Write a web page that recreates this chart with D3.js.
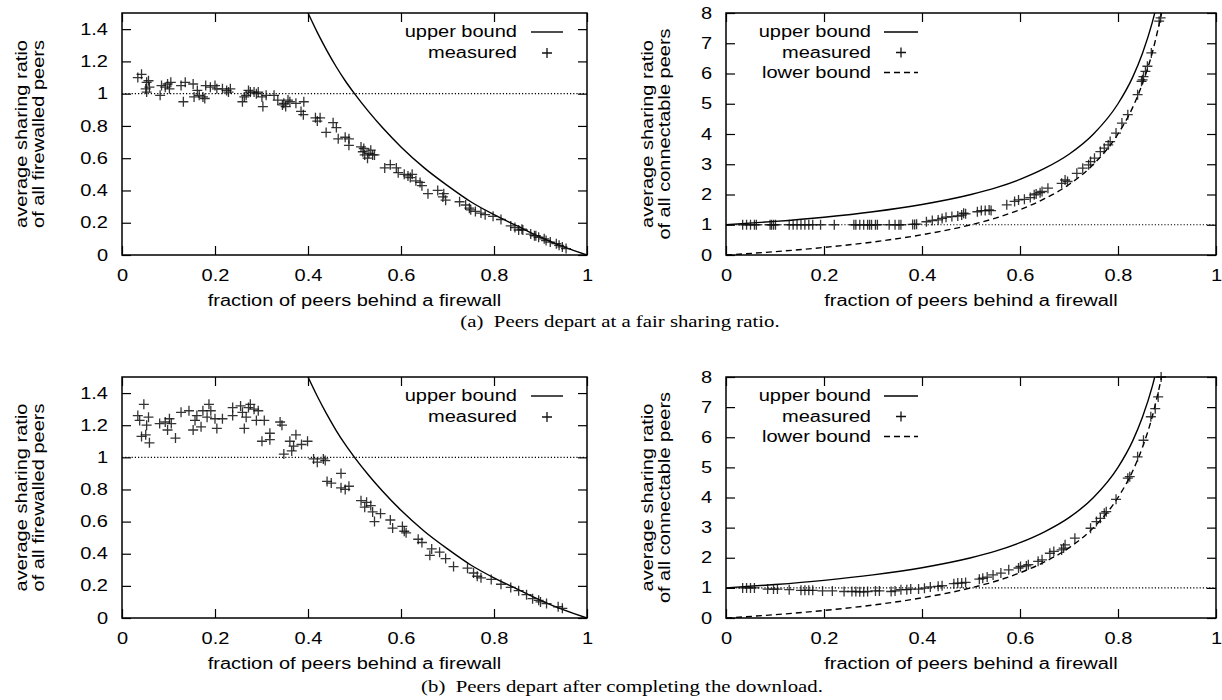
<!DOCTYPE html>
<html>
<head>
<meta charset="utf-8">
<script src="https://cdn.jsdelivr.net/npm/d3@7"></script>
<style>
  body { margin: 0; background: #fff; }
  svg text { font-family: "Liberation Sans", Arial, Helvetica, sans-serif; font-size: 16px; fill: #000; }
  svg text.caption { font-family: "Liberation Serif", "Times New Roman", serif; font-size: 16px; }
</style>
</head>
<body>
<div class="container"></div>
<script>
// tick values
const xTicks = [0, 0.2, 0.4, 0.6, 0.8, 1];
const fwTicks = [0, 0.2, 0.4, 0.6, 0.8, 1, 1.2, 1.4];
const connTicks = [0, 1, 2, 3, 4, 5, 6, 7, 8];

// bound curves
const fwUpperFrac = [0.4, 0.42, 0.44, 0.46, 0.48, 0.5, 0.53, 0.56, 0.6, 0.65, 0.7, 0.75, 0.8, 0.85, 0.9, 0.95, 1.0];
const fwUpper = [1.5, 1.38, 1.27, 1.17, 1.08, 1.0, 0.89, 0.79, 0.67, 0.54, 0.43, 0.33, 0.25, 0.18, 0.11, 0.05, 0];
const connUpperFrac = [0, 0.1, 0.2, 0.3, 0.4, 0.5, 0.55, 0.6, 0.65, 0.7, 0.75, 0.8, 0.83, 0.85, 0.87, 0.875];
const connUpper = [1, 1.11, 1.25, 1.43, 1.67, 2.0, 2.22, 2.5, 2.86, 3.33, 4.0, 5.0, 5.88, 6.67, 7.69, 8.0];
const connLowerFrac = [0, 0.1, 0.2, 0.3, 0.4, 0.5, 0.55, 0.6, 0.65, 0.7, 0.75, 0.8, 0.83, 0.85, 0.87, 0.889];
const connLower = [0, 0.11, 0.25, 0.43, 0.67, 1.0, 1.22, 1.5, 1.86, 2.33, 3.0, 4.0, 4.88, 5.67, 6.69, 8.0];

// (a) fair sharing ratio - firewalled peers, measured
const aFwFrac = [0.034, 0.042, 0.053, 0.057, 0.051, 0.053, 0.059, 0.085, 0.082, 0.098, 0.102, 0.105, 0.093, 0.127, 0.136, 0.153,
  0.132, 0.155, 0.162, 0.166, 0.174, 0.178, 0.180, 0.190, 0.200, 0.204, 0.216, 0.225, 0.229, 0.233, 0.259, 0.263, 0.267,
  0.272, 0.276, 0.284, 0.289, 0.293, 0.301, 0.303, 0.310, 0.327, 0.335, 0.345, 0.348, 0.352, 0.357, 0.361, 0.374, 0.385,
  0.390, 0.391, 0.416, 0.420, 0.426, 0.439, 0.454, 0.461, 0.465, 0.480, 0.488, 0.488, 0.514, 0.518, 0.520, 0.522, 0.528,
  0.531, 0.535, 0.539, 0.543, 0.565, 0.577, 0.590, 0.594, 0.607, 0.615, 0.620, 0.624, 0.632, 0.641, 0.645, 0.658, 0.679,
  0.690, 0.692, 0.696, 0.726, 0.739, 0.747, 0.750, 0.760, 0.772, 0.781, 0.798, 0.815, 0.836, 0.845, 0.853, 0.860, 0.862,
  0.879, 0.887, 0.890, 0.896, 0.908, 0.912, 0.921, 0.934, 0.940, 0.947, 0.955];
const aFwRatio = [1.10, 1.12, 1.07, 1.08, 1.03, 1.01, 1.04, 1.05, 0.99, 1.06, 1.03, 1.07, 1.04, 1.05, 1.07, 1.06,
  0.95, 0.98, 1.02, 0.99, 0.98, 0.97, 1.05, 1.04, 1.05, 1.03, 1.03, 1.02, 1.01, 1.03, 0.95, 0.98, 0.99,
  1.02, 1.01, 1.01, 1.00, 1.01, 0.98, 0.92, 0.99, 0.99, 0.96, 0.93, 0.94, 0.92, 0.96, 0.95, 0.94, 0.89,
  0.87, 0.95, 0.85, 0.83, 0.85, 0.76, 0.82, 0.79, 0.72, 0.73, 0.72, 0.68, 0.67, 0.64, 0.66, 0.62, 0.60,
  0.63, 0.65, 0.62, 0.62, 0.54, 0.56, 0.54, 0.51, 0.50, 0.49, 0.48, 0.50, 0.46, 0.45, 0.43, 0.38, 0.40,
  0.36, 0.38, 0.34, 0.33, 0.31, 0.29, 0.28, 0.27, 0.26, 0.25, 0.24, 0.22, 0.18, 0.17, 0.155, 0.16, 0.155,
  0.13, 0.12, 0.12, 0.11, 0.10, 0.09, 0.08, 0.07, 0.06, 0.05, 0.04];

// (a) fair sharing ratio - connectable peers, measured
const aConnFrac = [0.034, 0.042, 0.050, 0.058, 0.062, 0.090, 0.093, 0.097, 0.101, 0.129, 0.137, 0.145, 0.153, 0.161, 0.169,
  0.177, 0.193, 0.221, 0.261, 0.265, 0.273, 0.281, 0.289, 0.293, 0.297, 0.305, 0.309, 0.333, 0.345, 0.353, 0.357, 0.381,
  0.385, 0.389, 0.409, 0.421, 0.433, 0.441, 0.449, 0.461, 0.473, 0.481, 0.485, 0.489, 0.513, 0.521, 0.529, 0.537, 0.541,
  0.573, 0.589, 0.597, 0.609, 0.621, 0.629, 0.633, 0.641, 0.645, 0.657, 0.685, 0.692, 0.697, 0.716, 0.728, 0.740, 0.744,
  0.752, 0.764, 0.772, 0.780, 0.784, 0.796, 0.808, 0.820, 0.840, 0.848, 0.850, 0.852, 0.856, 0.860, 0.868, 0.884, 0.887];
const aConnRatio = [1.0, 1.0, 1.0, 1.0, 1.0, 1.0, 1.0, 1.0, 1.0, 1.0, 1.0, 1.0, 1.0, 1.0, 1.0,
  1.0, 1.0, 1.0, 1.0, 1.0, 1.0, 1.0, 1.0, 1.0, 1.0, 1.0, 1.0, 1.0, 1.0, 1.0, 1.0, 1.01,
  1.01, 1.02, 1.10, 1.14, 1.16, 1.21, 1.25, 1.27, 1.29, 1.32, 1.38, 1.36, 1.43, 1.47, 1.47, 1.49, 1.47,
  1.66, 1.77, 1.82, 1.84, 1.90, 1.99, 2.02, 2.06, 2.10, 2.21, 2.37, 2.48, 2.43, 2.70, 2.87, 2.98, 3.09,
  3.20, 3.42, 3.53, 3.64, 3.75, 4.03, 4.36, 4.64, 5.30, 5.74, 5.79, 5.90, 6.07, 6.24, 6.68, 7.73, 7.84];

// (b) after completing the download - firewalled peers, measured
const bFwFrac = [0.034, 0.038, 0.047, 0.057, 0.053, 0.042, 0.051, 0.059, 0.081, 0.093, 0.102, 0.106, 0.098, 0.115, 0.127,
  0.144, 0.153, 0.157, 0.161, 0.170, 0.174, 0.183, 0.187, 0.191, 0.204, 0.200, 0.216, 0.238, 0.238, 0.255, 0.259, 0.263,
  0.267, 0.272, 0.276, 0.284, 0.293, 0.289, 0.306, 0.301, 0.318, 0.318, 0.340, 0.344, 0.348, 0.361, 0.365, 0.369, 0.374,
  0.386, 0.399, 0.412, 0.420, 0.433, 0.437, 0.441, 0.450, 0.471, 0.471, 0.480, 0.488, 0.514, 0.522, 0.526, 0.535, 0.539,
  0.543, 0.556, 0.577, 0.582, 0.603, 0.607, 0.611, 0.637, 0.645, 0.662, 0.666, 0.683, 0.696, 0.713, 0.743, 0.756, 0.764,
  0.772, 0.794, 0.815, 0.836, 0.853, 0.870, 0.883, 0.896, 0.900, 0.913, 0.938, 0.947];
const bFwRatio = [1.26, 1.23, 1.33, 1.25, 1.20, 1.13, 1.14, 1.09, 1.21, 1.22, 1.24, 1.21, 1.17, 1.12, 1.28,
  1.29, 1.17, 1.23, 1.26, 1.19, 1.29, 1.25, 1.33, 1.29, 1.18, 1.24, 1.24, 1.31, 1.26, 1.32, 1.28, 1.18,
  1.25, 1.31, 1.33, 1.30, 1.29, 1.23, 1.23, 1.10, 1.11, 1.15, 1.22, 1.20, 1.02, 1.10, 1.04, 1.07, 1.14,
  1.08, 1.10, 0.99, 0.97, 0.99, 0.98, 0.85, 0.84, 0.90, 0.81, 0.80, 0.82, 0.73, 0.69, 0.72, 0.70, 0.66,
  0.60, 0.65, 0.61, 0.56, 0.57, 0.54, 0.53, 0.49, 0.47, 0.39, 0.43, 0.41, 0.37, 0.32, 0.31, 0.28, 0.26,
  0.25, 0.24, 0.21, 0.19, 0.17, 0.145, 0.12, 0.11, 0.10, 0.09, 0.07, 0.06];

// (b) after completing the download - connectable peers, measured
const bConnFrac = [0.034, 0.042, 0.050, 0.058, 0.085, 0.097, 0.105, 0.129, 0.153, 0.161, 0.169, 0.177, 0.197, 0.217, 0.241,
  0.257, 0.265, 0.273, 0.281, 0.289, 0.305, 0.313, 0.337, 0.345, 0.357, 0.369, 0.377, 0.393, 0.405, 0.417, 0.433, 0.441,
  0.465, 0.473, 0.481, 0.489, 0.517, 0.524, 0.533, 0.545, 0.561, 0.577, 0.597, 0.601, 0.613, 0.617, 0.637, 0.645, 0.661,
  0.669, 0.685, 0.689, 0.692, 0.712, 0.744, 0.756, 0.764, 0.772, 0.776, 0.796, 0.820, 0.824, 0.840, 0.852, 0.867, 0.876,
  0.882, 0.888];
const bConnRatio = [1.0, 1.0, 1.0, 1.0, 0.96, 0.96, 0.96, 0.94, 0.92, 0.92, 0.92, 0.92, 0.90, 0.90, 0.88,
  0.88, 0.88, 0.87, 0.87, 0.88, 0.90, 0.90, 0.88, 0.90, 0.94, 0.94, 0.96, 0.96, 0.99, 1.03, 1.05, 1.07,
  1.14, 1.16, 1.16, 1.18, 1.29, 1.32, 1.36, 1.43, 1.49, 1.60, 1.66, 1.71, 1.73, 1.77, 1.88, 1.93, 2.15,
  2.21, 2.26, 2.32, 2.43, 2.65, 2.98, 3.20, 3.31, 3.48, 3.53, 3.94, 4.64, 4.69, 5.35, 5.90, 6.68, 6.95,
  7.34, 8.0];

const SX = 1.25; // the original lettering is wide
const fmt = d3.format("~g");

const svg = d3.select(".container").append("svg")
  .attr("width", 1222)
  .attr("height", 700);

// widen a text element in its own frame without moving its anchor
function stretch(sel, sx = SX) {
  sel.each(function() {
    const t = d3.select(this);
    const x = +t.attr("x") || 0;
    t.attr("x", x / sx).attr("transform", `scale(${sx},1)`);
  });
}

const panels = [
  {id: "a-fw", left: 122, top: 13, width: 465, height: 242, kind: "fw", frac: aFwFrac, ratio: aFwRatio},
  {id: "a-conn", left: 726, top: 13, width: 490, height: 242, kind: "conn", frac: aConnFrac, ratio: aConnRatio},
  {id: "b-fw", left: 122, top: 377, width: 465, height: 241, kind: "fw", frac: bFwFrac, ratio: bFwRatio},
  {id: "b-conn", left: 726, top: 377, width: 490, height: 241, kind: "conn", frac: bConnFrac, ratio: bConnRatio}
];

panels.forEach(drawPanel);

function drawPanel(p) {
  const isFw = p.kind === "fw";
  const w = p.width, h = p.height;
  const g = svg.append("g").attr("transform", `translate(${p.left},${p.top})`);

  const x = d3.scaleLinear().domain([0, 1]).range([0, w]);
  const y = d3.scaleLinear().domain([0, isFw ? 1.5 : 8]).range([h, 0]);
  const yTicks = isFw ? fwTicks : connTicks;

  g.append("clipPath").attr("id", "clip-" + p.id)
    .append("rect").attr("width", w).attr("height", h);

  //axes, ticks pointing inwards and mirrored
  const xAxis = g.append("g").attr("transform", `translate(0,${h})`)
    .call(d3.axisBottom(x).tickValues(xTicks).tickFormat(fmt).tickSizeInner(-9).tickSizeOuter(0).tickPadding(15));
  const xTop = g.append("g")
    .call(d3.axisTop(x).tickValues(xTicks).tickFormat("").tickSizeInner(-9).tickSizeOuter(0));
  const yAxis = g.append("g")
    .call(d3.axisLeft(y).tickValues(yTicks).tickFormat(fmt).tickSizeInner(-9).tickSizeOuter(0).tickPadding(14));
  const yRight = g.append("g").attr("transform", `translate(${w},0)`)
    .call(d3.axisRight(y).tickValues(yTicks).tickFormat("").tickSizeInner(-9).tickSizeOuter(0));

  [xAxis, xTop, yAxis, yRight].forEach(a => {
    a.select(".domain").remove();
    a.selectAll(".tick line").attr("stroke", "#000").attr("stroke-width", 1.2);
  });
  xAxis.selectAll("text").call(stretch);
  yAxis.selectAll("text").call(stretch);

  //dotted reference line at 1
  g.append("line")
    .attr("x1", x(0)).attr("x2", x(1))
    .attr("y1", y(1)).attr("y2", y(1))
    .attr("stroke", "#000").attr("stroke-width", 1.1)
    .attr("stroke-dasharray", "1.2,2");

  const line = d3.line()
    .x(d => x(d[0]))
    .y(d => y(d[1]))
    .curve(d3.curveMonotoneX);

  const plot = g.append("g").attr("clip-path", `url(#clip-${p.id})`);

  if (isFw) {
    plot.append("path")
      .datum(fwUpperFrac.map((f, i) => [f, fwUpper[i]]))
      .attr("d", line).attr("fill", "none").attr("stroke", "#000").attr("stroke-width", 1.4);
  } else {
    plot.append("path")
      .datum(connUpperFrac.map((f, i) => [f, connUpper[i]]))
      .attr("d", line).attr("fill", "none").attr("stroke", "#000").attr("stroke-width", 1.4);
    plot.append("path")
      .datum(connLowerFrac.map((f, i) => [f, connLower[i]]))
      .attr("d", line).attr("fill", "none").attr("stroke", "#000").attr("stroke-width", 1.4)
      .attr("stroke-dasharray", "6,4");
  }

  //measured points as plus signs
  const pts = p.frac.map((f, i) => [f, p.ratio[i]]);
  g.append("g").selectAll("path")
    .data(pts)
    .enter()
    .append("path")
    .attr("d", d => plus(x(d[0]), y(d[1])))
    .attr("stroke", "#111")
    .attr("stroke-opacity", 0.85)
    .attr("stroke-width", 1.3)
    .attr("fill", "none");

  //border
  g.append("rect")
    .attr("width", w).attr("height", h)
    .attr("fill", "none").attr("stroke", "#000").attr("stroke-width", 1.5);

  //legend
  const lg = isFw
    ? {textRight: w - 70, x0: w - 56, x1: w - 24, rows: [19, 40]}
    : {textRight: 145, x0: 158, x1: 192, rows: [19, 39.5, 59.5]};
  const items = isFw ? ["upper bound", "measured"] : ["upper bound", "measured", "lower bound"];
  items.forEach((label, i) => {
    const ry = lg.rows[i];
    g.append("text")
      .attr("x", lg.textRight).attr("y", ry + 5.5)
      .attr("text-anchor", "end")
      .text(label)
      .call(stretch);
    if (label === "measured") {
      g.append("path").attr("d", plus((lg.x0 + lg.x1) / 2, ry))
        .attr("stroke", "#111").attr("stroke-width", 1.3).attr("fill", "none");
    } else {
      g.append("line")
        .attr("x1", lg.x0).attr("x2", lg.x1).attr("y1", ry).attr("y2", ry)
        .attr("stroke", "#000").attr("stroke-width", 1.4)
        .attr("stroke-dasharray", label === "lower bound" ? "6,4" : null);
    }
  });

  //axis titles
  g.append("text")
    .attr("x", w / 2).attr("y", h + 51)
    .attr("text-anchor", "middle")
    .text("fraction of peers behind a firewall")
    .call(stretch);

  const ty = g.append("text")
    .attr("text-anchor", "middle")
    .attr("transform", `translate(0,${h / 2}) rotate(-90) scale(${SX},1)`);
  const base = isFw ? -95 : -73;
  ty.append("tspan").attr("x", 0).attr("y", base).text("average sharing ratio");
  ty.append("tspan").attr("x", 0).attr("y", base + 17)
    .text(isFw ? "of all firewalled peers" : "of all connectable peers");
}

function plus(cx, cy) {
  return `M${cx - 5},${cy}h10M${cx},${cy - 5}v10`;
}

//sub-figure captions
svg.append("text").attr("class", "caption")
  .attr("x", 620).attr("y", 327).attr("text-anchor", "middle")
  .text("(a)\u00a0\u00a0Peers depart at a fair sharing ratio.")
  .call(stretch, 1.3);
svg.append("text").attr("class", "caption")
  .attr("x", 622).attr("y", 692).attr("text-anchor", "middle")
  .text("(b)\u00a0\u00a0Peers depart after completing the download.")
  .call(stretch, 1.3);
</script>
</body>
</html>
